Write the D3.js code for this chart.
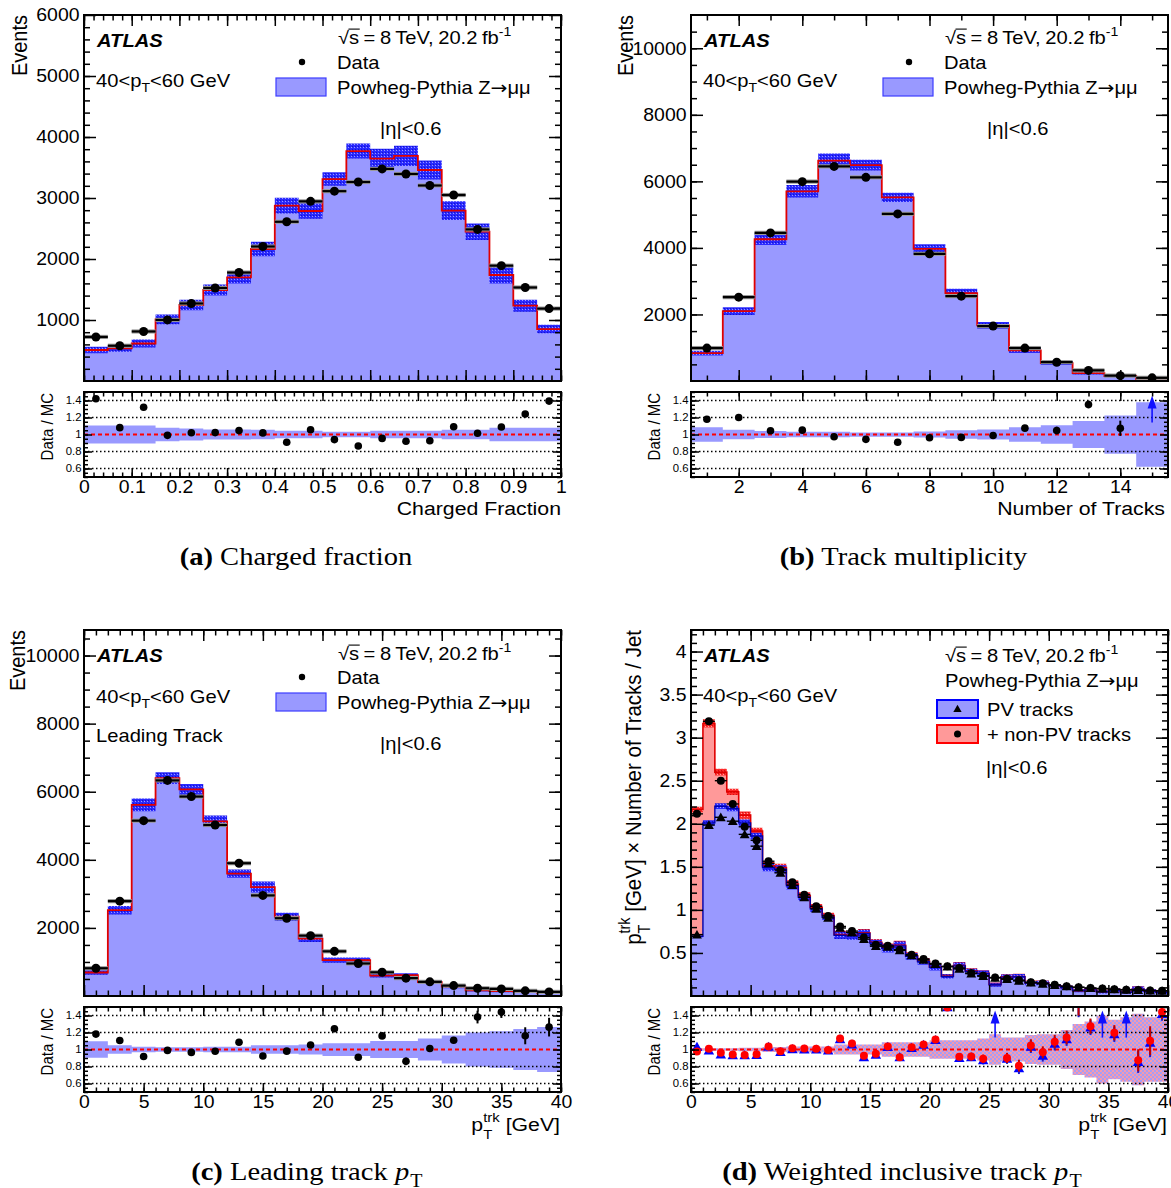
<!DOCTYPE html>
<html>
<head>
<meta charset="utf-8">
<script src="https://cdn.jsdelivr.net/npm/d3@7"></script>
<style>html,body{margin:0;padding:0;background:#fff;}svg{display:block;}</style>
</head>
<body>
<script>
// ================= DATA =================
// (a) Charged fraction
const edgesA   = [0,0.05,0.1,0.15,0.2,0.25,0.3,0.35,0.4,0.45,0.5,0.55,0.6,0.65,0.7,0.75,0.8,0.85,0.9,0.95,1];
const mcA      = [508,535,615,1011,1246,1492,1700,2164,2874,2787,3311,3770,3645,3689,3459,2792,2448,1738,1235,852];
const dataA    = [722,578,812,1001,1271,1525,1778,2205,2610,2945,3112,3262,3477,3394,3205,3049,2485,1891,1533,1187];
const mcErrA   = [0.105,0.105,0.105,0.08,0.07,0.06,0.06,0.055,0.045,0.045,0.033,0.033,0.045,0.045,0.045,0.055,0.055,0.08,0.08,0.08];
const statErrA = [0.03,0.03,0.03,0.02,0.02,0.02,0.02,0.02,0.02,0.02,0.02,0.02,0.02,0.02,0.02,0.02,0.02,0.02,0.025,0.03];
const xTicksA  = [0,0.1,0.2,0.3,0.4,0.5,0.6,0.7,0.8,0.9,1];
const xLabelsA = ["0","0.1","0.2","0.3","0.4","0.5","0.6","0.7","0.8","0.9","1"];
const yTicksA  = [1000,2000,3000,4000,5000,6000];

// (b) Track multiplicity
const tracksB  = [1,2,3,4,5,6,7,8,9,10,11,12,13,14,15];
const mcB      = [840,2100,4260,5700,6621,6491,5520,3971,2640,1671,921,540,235,150,55];
const dataB    = [990,2520,4450,5991,6450,6120,5021,3821,2550,1650,990,565,318,161,95];
const mcErrB   = [0.085,0.055,0.04,0.033,0.033,0.025,0.025,0.035,0.05,0.06,0.085,0.11,0.16,0.225,0.38];
const statErrB = [0.03,0.02,0.015,0.013,0.012,0.012,0.014,0.016,0.02,0.025,0.032,0.045,0.045,0.09,0.15];
const arrowsB  = [14];
const xTicksB  = [2,4,6,8,10,12,14];
const yTicksB  = [2000,4000,6000,8000,10000];

// (c) Leading track pT
const edgesC   = [0,2,4,6,8,10,12,14,16,18,20,22,24,26,28,30,32,34,36,38,40];
const mcC      = [690,2520,5613,6401,6066,5131,3594,3200,2330,1684,1055,1050,600,610,410,275,165,145,130,95];
const dataC    = [815,2786,5150,6332,5858,5022,3900,2954,2285,1773,1312,955,696,525,415,305,228,209,151,120];
const mcErrC   = [0.097,0.05,0.033,0.027,0.027,0.033,0.033,0.05,0.05,0.06,0.075,0.075,0.1,0.1,0.13,0.165,0.2,0.215,0.24,0.265];
const statErrC = [0.035,0.02,0.014,0.013,0.014,0.014,0.017,0.019,0.021,0.024,0.027,0.032,0.038,0.044,0.02,0.04,0.075,0.07,0.1,0.11];
const xTicksC  = [0,5,10,15,20,25,30,35,40];

// (d) Weighted inclusive track pT (40 bins of 1 GeV)
const edgesD   = [0,1,2,3,4,5,6,7,8,9,10,11,12,13,14,15,16,17,18,19,20,21,22,23,24,25,26,27,28,29,30,31,32,33,34,35,36,37,38,39,40];
const mcTotD   = [2.165,3.165,2.60,2.37,2.10,1.915,1.512,1.492,1.300,1.165,1.031,0.935,0.715,0.705,0.735,0.625,0.563,0.59,0.468,0.406,0.337,0.231,0.355,0.29,0.265,0.133,0.222,0.226,0.153,0.152,0.119,0.099,0.063,0.073,0.051,0.066,0.046,0.079,0.058,0.043];
const mcPVD    = [0.692,2.01,2.204,2.177,2.01,1.858,1.492,1.473,1.281,1.146,1.012,0.915,0.705,0.695,0.725,0.615,0.553,0.582,0.461,0.398,0.333,0.227,0.35,0.286,0.263,0.131,0.219,0.224,0.15,0.151,0.117,0.098,0.0625,0.0714,0.05,0.0653,0.0436,0.0784,0.0574,0.0423];
const dataTotD = [2.115,3.19,2.50,2.23,1.965,1.808,1.565,1.462,1.32,1.177,1.041,0.93,0.808,0.754,0.68,0.594,0.583,0.537,0.48,0.43,0.377,0.345,0.325,0.266,0.236,0.215,0.2,0.183,0.16,0.147,0.13,0.113,0.102,0.093,0.087,0.079,0.074,0.069,0.064,0.062];
const dataPVD  = [0.713,1.985,2.075,2.03,1.877,1.74,1.54,1.43,1.287,1.146,1.012,0.906,0.79,0.737,0.66,0.578,0.57,0.53,0.47,0.42,0.37,0.34,0.315,0.26,0.23,0.21,0.195,0.175,0.155,0.14,0.125,0.11,0.10,0.09,0.085,0.077,0.072,0.067,0.062,0.06];
const mcErrD   = [0.015,0.015,0.015,0.015,0.02,0.02,0.03,0.03,0.035,0.035,0.035,0.035,0.06,0.06,0.06,0.06,0.085,0.085,0.085,0.085,0.11,0.11,0.11,0.11,0.13,0.18,0.14,0.14,0.17,0.18,0.18,0.23,0.3,0.33,0.4,0.35,0.38,0.42,0.38,0.38];
const statErrD = [0.01,0.01,0.01,0.01,0.01,0.01,0.012,0.012,0.012,0.012,0.012,0.012,0.018,0.018,0.02,0.02,0.025,0.025,0.028,0.03,0.035,0.04,0.04,0.045,0.05,0.06,0.06,0.07,0.075,0.07,0.08,0.08,0.22,0.09,0.1,0.09,0.12,0.13,0.17,0.08];
const arrowsD  = [25,34,36];
const yTicksD  = [0.5,1,1.5,2,2.5,3,3.5,4];
const yLabelsD = ["0.5","1","1.5","2","2.5","3","3.5","4"];

// ratio panels
const ratioTicks  = [0.6,0.8,1,1.2,1.4];
const ratioLabels = ["0.6","0.8","1","1.2","1.4"];

// ================= DRAWING =================
const SX = 1.12, SXT = 1.08;
const FONT  = "'Liberation Sans', Arial, Helvetica, sans-serif";
const SERIF = "'Liberation Serif', 'Times New Roman', Times, serif";
const SYM   = "'DejaVu Sans', sans-serif";
const FILL_B = '#9999ff', FILL_R = '#ff9999', RED = '#e00000';

const svg = d3.select('body').append('svg').attr('width',1171).attr('height',1188);
svg.append('rect').attr('width',1171).attr('height',1188).attr('fill','#fff');
const defs = svg.append('defs');

function pattern(id, cell, bg, dots) {
  const p = defs.append('pattern').attr('id',id).attr('width',cell).attr('height',cell).attr('patternUnits','userSpaceOnUse');
  p.append('rect').attr('width',cell).attr('height',cell).attr('fill',bg);
  dots.forEach(([x,y,w,h,c]) => p.append('rect').attr('x',x).attr('y',y).attr('width',w).attr('height',h).attr('fill',c));
}
pattern('hatchB', 3, '#2a2aff', [[0,0,1,1,'#9a9aff'],[1,2,1,1,'#1414c8']]);
pattern('hatchR', 3, '#ff2a2a', [[0,0,1,1,'#ffa0a0'],[1,2,1,1,'#c81414']]);
pattern('hatchM', 4, '#f49ab0', [[0,0,2,2,'#a89cf4'],[2,2,2,2,'#a89cf4']]);

let clipN = 0;
function clip(x,y,w,h){
  const id = 'clip' + (clipN++);
  defs.append('clipPath').attr('id',id).append('rect').attr('x',x).attr('y',y).attr('width',w).attr('height',h);
  return `url(#${id})`;
}

function rich(x, y, segs, o = {}) {
  const fs = o.size || 18;
  let tr = `translate(${x},${y})`;
  tr += o.rotate ? ` rotate(-90) scale(1,${SX})` : ` scale(${SX},1)`;
  const t = svg.append('text').attr('transform', tr)
    .attr('font-family', o.family || FONT).attr('font-size', fs)
    .attr('text-anchor', o.anchor || 'start').attr('fill', o.fill || '#000');
  if (o.weight) t.attr('font-weight', o.weight);
  if (o.style) t.attr('font-style', o.style);
  if (o.wordSpacing != null) t.attr('word-spacing', o.wordSpacing);
  const subK = o.subK || 0.3, supK = o.supK || 0.42;
  let shift = 0, prev = null;
  segs.forEach(s => {
    const sp = t.append('tspan').text(s.t);
    const tgt = s.sub ? fs*subK : s.sup ? -fs*supK : 0;
    if (tgt !== shift) { sp.attr('dy', tgt - shift); shift = tgt; }
    if (s.sub || s.sup) sp.attr('font-size', fs*0.7);
    if (s.bold) sp.attr('font-weight','bold');
    if (s.italic) sp.attr('font-style','italic');
    if (s.family) sp.attr('font-family', s.family);
    if (s.back && prev) sp.attr('dx', -prev.node().getComputedTextLength());
    prev = sp;
  });
  return t;
}

// sqrt(s) label with an overbar over "s", as TLatex draws it
function sqrtsLabel(x, y) {
  const fs = 18;
  const t = rich(x, y, [{t:'√s = 8 TeV, 20.2 fb'},{t:'-1',sup:true}], {wordSpacing:-1});
  const n = t.select('tspan').node();
  const w1 = n.getSubStringLength(0,1), w2 = n.getSubStringLength(1,1);
  svg.append('line').attr('transform', `translate(${x},${y}) scale(${SX},1)`)
    .attr('x1', w1 - 0.5).attr('x2', w1 + w2 + 0.5).attr('y1', -fs*0.8).attr('y2', -fs*0.8)
    .attr('stroke','#000').attr('stroke-width',1.1);
}

// caption: main text, then optional italic p and subscript T as separate text elements
function caption(cx, y, label, body, pSub) {
  const fs = 25.5;
  const mk = (size) => svg.append('text').attr('font-family', SERIF).attr('font-size', size).attr('fill','#000');
  const t = mk(fs);
  t.append('tspan').attr('font-weight','bold').text(label);
  t.append('tspan').text(body);
  const wMain = t.node().getComputedTextLength();
  let wP = 0, wT = 0, gap = 0, p = null, s = null;
  if (pSub) {
    gap = fs * 0.25;
    p = mk(fs).attr('font-style','italic').text('p');
    s = mk(fs*0.7).text('T');
    wP = p.node().getComputedTextLength() + 1;
    wT = s.node().getComputedTextLength() + 2;
  }
  const x0 = cx - (wMain + gap + wP + wT) * SX / 2;
  t.attr('transform', `translate(${x0},${y}) scale(${SX},1)`);
  if (pSub) {
    p.attr('transform', `translate(${x0 + (wMain + gap)*SX},${y}) scale(${SX},1)`);
    s.attr('transform', `translate(${x0 + (wMain + gap + wP)*SX},${y + fs*0.28}) scale(${SX},1)`);
  }
}

function layout(ox, oy, xDomain, yMax) {
  const L = {X0:84+ox, X1:561+ox, Y0:15+oy, Y1:381+oy, R0:392+oy, R1:477+oy};
  L.x = d3.scaleLinear().domain(xDomain).range([L.X0, L.X1]);
  L.y = d3.scaleLinear().domain([0, yMax]).range([L.Y1, L.Y0]);
  L.r = d3.scaleLinear().domain([0.5, 1.5]).range([L.R1, L.R0]);
  L.gMain = svg.append('g').attr('clip-path', clip(L.X0, L.Y0, L.X1-L.X0, L.Y1-L.Y0));
  L.gRat  = svg.append('g').attr('clip-path', clip(L.X0, L.R0, L.X1-L.X0, L.R1-L.R0));
  return L;
}

function steps(edges, vals) {
  const p = vals.map((v,i) => ({e:edges[i], v, i}));
  p.push({e:edges[edges.length-1], v:vals[vals.length-1], i:vals.length-1});
  return p;
}
function histFill(L, edges, vals, fill) {
  const a = d3.area().curve(d3.curveStepAfter).x(d => L.x(d.e)).y0(L.y(0)).y1(d => L.y(d.v));
  L.gMain.append('path').attr('d', a(steps(edges, vals))).attr('fill', fill);
}
function histBand(L, edges, vals, rel, fill) {
  const a = d3.area().curve(d3.curveStepAfter).x(d => L.x(d.e))
    .y0(d => L.y(d.v*(1-rel[d.i]))).y1(d => L.y(d.v*(1+rel[d.i])));
  L.gMain.append('path').attr('d', a(steps(edges, vals))).attr('fill', fill);
}
function histLine(L, edges, vals, color, w) {
  const l = d3.line().curve(d3.curveStepAfter).x(d => L.x(d.e)).y(d => L.y(d.v));
  L.gMain.append('path').attr('d', l(steps(edges, vals))).attr('fill','none').attr('stroke',color).attr('stroke-width',w);
}
function marker(g, shape, cx, cy, size, color) {
  if (shape === 'tri') {
    g.append('path').attr('d', d3.symbol(d3.symbolTriangle, size)()).attr('transform',`translate(${cx},${cy+1})`).attr('fill',color);
  } else {
    g.append('circle').attr('cx',cx).attr('cy',cy).attr('r',size).attr('fill',color);
  }
}
function dataMain(L, edges, vals, o = {}) {
  const g = L.gMain.append('g');
  vals.forEach((v,i) => {
    const xa = L.x(edges[i]), xb = L.x(edges[i+1]), yc = L.y(v);
    if (o.halo) g.append('line').attr('x1',xa).attr('x2',xb).attr('y1',yc).attr('y2',yc).attr('stroke','#9a9a9a').attr('stroke-width',4.2);
    g.append('line').attr('x1',xa).attr('x2',xb).attr('y1',yc).attr('y2',yc).attr('stroke','#000').attr('stroke-width',o.lw || 2.2);
    marker(g, o.shape || 'circle', (xa+xb)/2, yc, o.size || 4.5, '#000');
  });
}
function ratioBand(L, edges, rel, fill) {
  const a = d3.area().curve(d3.curveStepAfter).x(d => L.x(d.e))
    .y0(d => L.r(1-rel[d.i])).y1(d => L.r(1+rel[d.i]));
  L.gRat.append('path').attr('d', a(steps(edges, rel))).attr('fill', fill);
}
function ratioLines(L) {
  const g = L.gRat.append('g');
  [0.6,0.8,1.2,1.4].forEach(v => g.append('line').attr('x1',L.X0).attr('x2',L.X1).attr('y1',L.r(v)).attr('y2',L.r(v))
    .attr('stroke','#000').attr('stroke-width',1.4).attr('stroke-dasharray','1.5,2.5'));
  g.append('line').attr('x1',L.X0).attr('x2',L.X1).attr('y1',L.r(1)).attr('y2',L.r(1))
    .attr('stroke','#ff0000').attr('stroke-width',2).attr('stroke-dasharray','4,3');
}
function ratioPts(L, centers, num, den, errs, o = {}) {
  const g = L.gRat.append('g');
  const arrows = o.arrows || [];
  centers.forEach((c,i) => {
    const xc = L.x(c);
    if (arrows.includes(i)) {
      const yb = L.r(1.14), yt = L.r(1.46);
      g.append('line').attr('x1',xc).attr('x2',xc).attr('y1',yb).attr('y2',yt+8).attr('stroke','#1010ff').attr('stroke-width',1.6);
      g.append('path').attr('d',`M${xc},${yt} L${xc-4.5},${yt+13} L${xc+4.5},${yt+13} Z`).attr('fill','#1010ff');
      return;
    }
    const v = num[i]/den[i], e = errs[i];
    if (e > 0.04) g.append('line').attr('x1',xc).attr('x2',xc).attr('y1',L.r(v-e)).attr('y2',L.r(v+e))
      .attr('stroke', o.ecolor || '#000').attr('stroke-width', 2);
    marker(g, o.shape || 'circle', xc, L.r(v), o.size || 3.8, o.color || '#000');
  });
}

function axes(L, xs, ys, isRatio) {
  const X = isRatio ? [9, 4.5] : [11, 5.5];
  const Y = isRatio ? [8, 4] : [12, 6];
  const ysc = isRatio ? L.r : L.y;
  const top = isRatio ? L.R0 : L.Y0, bot = isRatio ? L.R1 : L.Y1;
  const g = svg.append('g');
  function add(fn, sc, vals, len, tr, labels, pad, fs, side) {
    const a = fn(sc).tickValues(vals).tickSize(-len).tickPadding(pad || 0)
      .tickFormat(labels ? (d => labels[vals.indexOf(d)]) : () => '');
    const gg = g.append('g').attr('transform', tr).call(a);
    gg.select('.domain').remove();
    gg.attr('font-family', FONT).attr('font-size', fs || 18);
    gg.selectAll('line').attr('stroke','#000').attr('stroke-width',1.5);
    gg.selectAll('text').attr('fill','#000');
    if (labels && side === 'left') gg.selectAll('text').attr('x', -pad/SXT).attr('transform', `scale(${SXT},1)`);
    if (labels && side === 'bottom') gg.selectAll('text').attr('transform', `scale(${SXT},1)`);
  }
  add(d3.axisBottom, L.x, xs.minor, X[1], `translate(0,${bot})`);
  add(d3.axisBottom, L.x, xs.major, X[0], `translate(0,${bot})`, isRatio ? xs.labels : null, 3.5, 18, 'bottom');
  add(d3.axisTop, L.x, xs.minor, X[1], `translate(0,${top})`);
  add(d3.axisTop, L.x, xs.major, X[0], `translate(0,${top})`);
  add(d3.axisLeft, ysc, ys.minor, Y[1], `translate(${L.X0},0)`);
  add(d3.axisLeft, ysc, ys.major, Y[0], `translate(${L.X0},0)`, ys.labels, isRatio ? 2.5 : 4.5, isRatio ? 10.5 : 18, 'left');
  add(d3.axisRight, ysc, ys.minor, Y[1], `translate(${L.X1},0)`);
  add(d3.axisRight, ysc, ys.major, Y[0], `translate(${L.X1},0)`);
  g.append('rect').attr('x',L.X0).attr('y',top).attr('width',L.X1-L.X0).attr('height',bot-top)
    .attr('fill','none').attr('stroke','#000').attr('stroke-width',2);
}

const centersOf = edges => edges.slice(0,-1).map((e,i) => (e + edges[i+1]) / 2);
const ratioY = {major: ratioTicks, labels: ratioLabels, minor: d3.range(0.5, 1.5001, 0.05)};
const powhegSegs = [{t:'Powheg-Pythia Z'},{t:'→', family:SYM},{t:'μμ'}];
const ptrkSegs = (tail) => [{t:'p'},{t:'T',sub:true},{t:'trk',sup:true,back:true},{t:tail}];

function stdLegend(ox, oy, o) {
  rich(97+ox, 46.5+oy, [{t:'ATLAS'}], {weight:'bold', style:'italic'});
  rich(96+ox, o.ptY, [{t:'40<p'},{t:'T',sub:true},{t:'<60 GeV'}]);
  sqrtsLabel(338+ox, o.sY);
  svg.append('circle').attr('cx',302+ox).attr('cy',o.dotY).attr('r',3.2).attr('fill','#000');
  rich(337+ox, o.dotY+6.5, [{t:'Data'}]);
  svg.append('rect').attr('x',276+ox).attr('y',o.boxY).attr('width',50).attr('height',18)
    .attr('fill',FILL_B).attr('stroke','#3c3cff').attr('stroke-width',1.2);
  rich(337+ox, o.boxY+15.5, powhegSegs);
  rich(380+ox, o.etaY, [{t:'|η|<0.6'}]);
}

// ---------- (a) ----------
{
  const L = layout(0, 0, [0, 1], 6000);
  histFill(L, edgesA, mcA, FILL_B);
  histBand(L, edgesA, mcA, mcErrA, 'url(#hatchB)');
  histLine(L, edgesA, mcA, RED, 1.8);
  dataMain(L, edgesA, dataA, {halo:true});
  ratioBand(L, edgesA, mcErrA, FILL_B);
  ratioLines(L);
  ratioPts(L, centersOf(edgesA), dataA, mcA, statErrA);
  const xs = {major:xTicksA, labels:xLabelsA, minor:d3.range(0, 1.0001, 0.02)};
  axes(L, xs, {major:yTicksA, labels:yTicksA.map(String), minor:d3.range(200, 6000, 200)}, false);
  axes(L, xs, ratioY, true);
  stdLegend(0, 0, {ptY:86.5, sY:43.5, dotY:62, boxY:78, etaY:134.5});
  rich(26.5, 15, [{t:'Events'}], {rotate:true, anchor:'end', size:20});
  rich(53, 393, [{t:'Data / MC'}], {rotate:true, anchor:'end', size:15});
  rich(561, 515, [{t:'Charged Fraction'}], {anchor:'end', size:19});
  caption(296, 565, '(a)', ' Charged fraction', false);
}

// ---------- (b) ----------
{
  const ox = 607;
  const edgesB = tracksB.map(t => t - 0.5).concat([tracksB[tracksB.length-1] + 0.5]);
  const L = layout(ox, 0, [0.5, 15.5], 11000);
  histFill(L, edgesB, mcB, FILL_B);
  histBand(L, edgesB, mcB, mcErrB, 'url(#hatchB)');
  histLine(L, edgesB, mcB, RED, 1.8);
  dataMain(L, edgesB, dataB, {halo:true});
  ratioBand(L, edgesB, mcErrB, FILL_B);
  ratioLines(L);
  ratioPts(L, tracksB, dataB, mcB, statErrB, {arrows: arrowsB});
  const xs = {major:xTicksB, labels:xTicksB.map(String), minor:d3.range(1, 16, 1)};
  axes(L, xs, {major:yTicksB, labels:yTicksB.map(String), minor:d3.range(500, 11000, 500)}, false);
  axes(L, xs, ratioY, true);
  stdLegend(ox, 0, {ptY:86.5, sY:43.5, dotY:62, boxY:78, etaY:134.5});
  rich(633, 15, [{t:'Events'}], {rotate:true, anchor:'end', size:20});
  rich(660, 393, [{t:'Data / MC'}], {rotate:true, anchor:'end', size:15});
  rich(1165, 515, [{t:'Number of Tracks'}], {anchor:'end', size:19});
  caption(903.5, 565, '(b)', ' Track multiplicity', false);
}

// ---------- (c) ----------
{
  const oy = 615;
  const L = layout(0, oy, [0, 40], 10750);
  histFill(L, edgesC, mcC, FILL_B);
  histBand(L, edgesC, mcC, mcErrC, 'url(#hatchB)');
  histLine(L, edgesC, mcC, RED, 1.8);
  dataMain(L, edgesC, dataC, {halo:true});
  ratioBand(L, edgesC, mcErrC, FILL_B);
  ratioLines(L);
  ratioPts(L, centersOf(edgesC), dataC, mcC, statErrC);
  const xs = {major:xTicksC, labels:xTicksC.map(String), minor:d3.range(0, 41, 1)};
  axes(L, xs, {major:yTicksB, labels:yTicksB.map(String), minor:d3.range(500, 10750, 500)}, false);
  axes(L, xs, ratioY, true);
  stdLegend(0, oy, {ptY:703, sY:659.5, dotY:677, boxY:693, etaY:749.5});
  rich(96, 741.5, [{t:'Leading Track'}]);
  rich(24.5, 630, [{t:'Events'}], {rotate:true, anchor:'end', size:20});
  rich(53, 1008, [{t:'Data / MC'}], {rotate:true, anchor:'end', size:15});
  rich(560, 1131, ptrkSegs(' [GeV]'), {anchor:'end', size:19, subK:0.4, supK:0.45});
  caption(308, 1180, '(c)', ' Leading track', true);
}

// ---------- (d) ----------
{
  const ox = 607, oy = 615;
  const L = layout(ox, oy, [0, 40], 4.25);
  histFill(L, edgesD, mcTotD, FILL_R);
  histBand(L, edgesD, mcTotD, mcErrD, 'url(#hatchR)');
  histFill(L, edgesD, mcPVD, FILL_B);
  histBand(L, edgesD, mcPVD, mcErrD, 'url(#hatchB)');
  histLine(L, edgesD, mcTotD, RED, 1.6);
  histLine(L, edgesD, mcPVD, '#0000aa', 1.4);
  dataMain(L, edgesD, dataPVD, {shape:'tri', size:42, lw:1.4});
  dataMain(L, edgesD, dataTotD, {shape:'circle', size:4, lw:1.4});
  ratioBand(L, edgesD, mcErrD, 'url(#hatchM)');
  ratioLines(L);
  const cD = centersOf(edgesD);
  ratioPts(L, cD, dataPVD, mcPVD, statErrD, {shape:'tri', size:48, color:'#0000ff', ecolor:'#1a1ad0', arrows: arrowsD});
  ratioPts(L, cD, dataTotD, mcTotD, statErrD, {shape:'circle', size:4, color:'#ff0000', ecolor:'#c00000', arrows: []});
  const xs = {major:xTicksC, labels:xTicksC.map(String), minor:d3.range(0, 41, 1)};
  axes(L, xs, {major:yTicksD, labels:yLabelsD, minor:d3.range(0.1, 4.25, 0.1)}, false);
  axes(L, xs, ratioY, true);
  rich(704, 661.5, [{t:'ATLAS'}], {weight:'bold', style:'italic'});
  rich(703, 701.5, [{t:'40<p'},{t:'T',sub:true},{t:'<60 GeV'}]);
  sqrtsLabel(945, 661.5);
  rich(945, 686.5, powhegSegs);
  svg.append('rect').attr('x',937).attr('y',700).attr('width',41).attr('height',18).attr('fill',FILL_B).attr('stroke','#0000ff').attr('stroke-width',2);
  marker(svg, 'tri', 957.5, 708.5, 30, '#000');
  rich(987, 715.5, [{t:'PV tracks'}]);
  svg.append('rect').attr('x',937).attr('y',725).attr('width',41).attr('height',18).attr('fill',FILL_R).attr('stroke','#ff0000').attr('stroke-width',2);
  marker(svg, 'circle', 957.5, 734, 3.5, '#000');
  rich(987, 741, [{t:'+ non-PV tracks'}]);
  rich(986, 773.5, [{t:'|η|<0.6'}]);
  rich(641, 630, ptrkSegs(' [GeV] × Number of Tracks / Jet'), {rotate:true, anchor:'end', size:20.5, subK:0.4, supK:0.5});
  rich(660, 1008, [{t:'Data / MC'}], {rotate:true, anchor:'end', size:15});
  rich(1167, 1131, ptrkSegs(' [GeV]'), {anchor:'end', size:19, subK:0.4, supK:0.45});
  caption(903, 1180, '(d)', ' Weighted inclusive track', true);
}
</script>
</body>
</html>
